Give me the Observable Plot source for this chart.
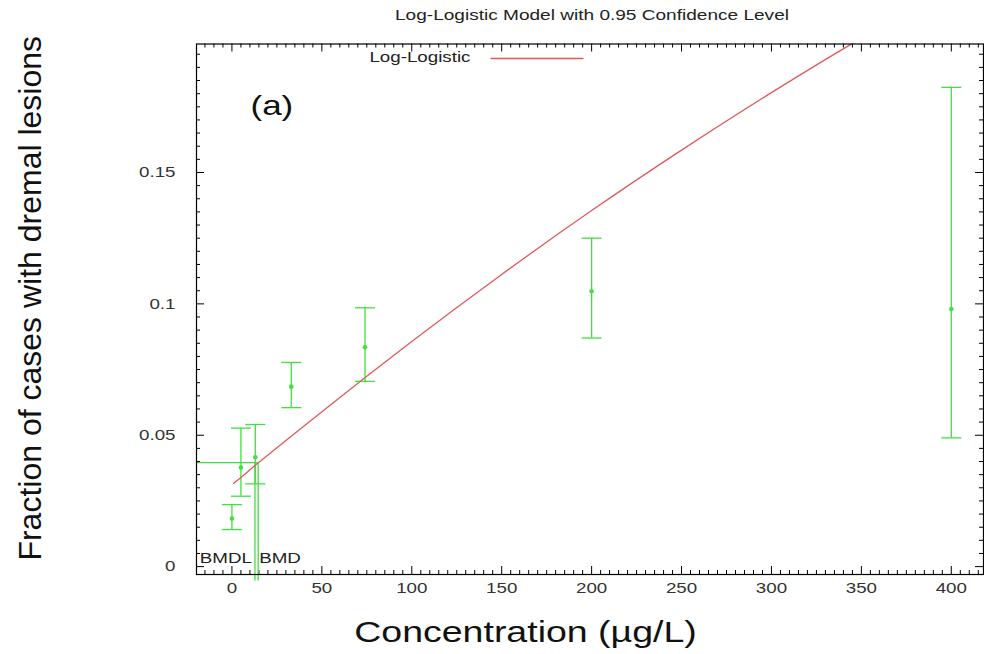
<!DOCTYPE html>
<html><head><meta charset="utf-8">
<script src="https://cdn.jsdelivr.net/npm/d3@7"></script>
<script src="https://cdn.jsdelivr.net/npm/@observablehq/plot@0.6"></script>
<style>
body{margin:0;background:#fff;font-family:"Liberation Sans",Arial,sans-serif;}
#title{position:relative;height:30px;width:984px;}
#title span{position:absolute;left:592px;top:6px;font-size:15px;line-height:17px;white-space:nowrap;transform:translateX(-50%) scaleX(1.27);color:#222;}
#chart svg{overflow:visible;}
</style></head><body>
<div id="title"><span>Log-Logistic Model with 0.95 Confidence Level</span></div>
<div id="chart"></div>
<script>
// Observed data (dose, fraction) with 95% confidence limits
const doses    = [0, 5, 13, 33, 74, 200, 400];
const observed = [0.0183, 0.0377, 0.0416, 0.0685, 0.0835, 0.1048, 0.0980];
const lower    = [0.0141, 0.0268, 0.0315, 0.0605, 0.0705, 0.0870, 0.0490];
const upper    = [0.0236, 0.0527, 0.0541, 0.0777, 0.0985, 0.1250, 0.1824];

// Fitted log-logistic curve
const curveDose = [1, 5, 14.6, 25, 38, 73, 100, 150, 200, 250, 300, 343, 350];
const curveP    = [0.0317, 0.0339, 0.0395, 0.0452, 0.0524, 0.0714, 0.0857, 0.1112, 0.1355, 0.1585, 0.1804, 0.1983, 0.2011];

// Benchmark dose markers
const bmr  = [0.0396];
const bmdl = [12.8];
const bmd  = [14.6];

// Axis ticks
const xTicks = [0, 50, 100, 150, 200, 250, 300, 350, 400];
const xTickLabels = ["0", "50", "100", "150", "200", "250", "300", "350", "400"];
const yTicks = [0, 0.05, 0.1, 0.15];
const yTickLabels = ["0", "0.05", "0.1", "0.15"];
const xDomain = [-19.7, 417.9];
const yDomain = [-0.003, 0.1989];

const GREEN = "#3fe03f", RED = "#e05a5a";
const obs = doses.map((d, i) => ({dose: d, p: observed[i], lo: lower[i], hi: upper[i]}));
const curve = curveDose.map((d, i) => ({dose: d, p: curveP[i]}));

const xMinor = d3.range(-15, 418, 5).filter(v => v % 50 !== 0);
const yMinor = d3.range(0, 0.1989, 0.005).filter(v => Math.abs(v / 0.05 - Math.round(v / 0.05)) > 1e-6);

const capSymbol = {draw(ctx) { ctx.moveTo(-10, 0); ctx.lineTo(10, 0); }};
const legendSymbol = {draw(ctx) { ctx.moveTo(-46.5, 0); ctx.lineTo(46.5, 0); }};

const W = 984, H = 624, mL = 196, mR = 1, mT = 13.5, mB = 80;
const fw = W - mL - mR, fh = H - mT - mB;

const chart = Plot.plot({
  width: W, height: H,
  marginLeft: mL, marginRight: mR, marginTop: mT, marginBottom: mB,
  style: {fontFamily: "Liberation Sans, Arial, sans-serif", background: "#fff", overflow: "visible"},
  x: {domain: xDomain},
  y: {domain: yDomain},
  marks: [
    // tick labels
    Plot.axisX({ticks: xTicks, tickSize: 0, tickPadding: 8, fontSize: 15, fill: "#333", label: null,
      tickFormat: d => xTickLabels[xTicks.indexOf(d)]}),
    Plot.axisY({ticks: yTicks, tickSize: 0, tickPadding: 21, fontSize: 15, fill: "#333", label: null,
      tickFormat: d => yTickLabels[yTicks.indexOf(d)]}),
    // inward ticks on all four sides
    Plot.ruleX(xTicks, {insetTop: fh - 8, stroke: "#000"}),
    Plot.ruleX(xTicks, {insetBottom: fh - 8, stroke: "#000"}),
    Plot.ruleX(xMinor, {insetTop: fh - 4, stroke: "#000"}),
    Plot.ruleX(xMinor, {insetBottom: fh - 4, stroke: "#000"}),
    Plot.ruleY(yTicks, {insetRight: fw - 8, stroke: "#000"}),
    Plot.ruleY(yTicks, {insetLeft: fw - 8, stroke: "#000"}),
    Plot.ruleY(yMinor, {insetRight: fw - 4, stroke: "#000"}),
    Plot.ruleY(yMinor, {insetLeft: fw - 4, stroke: "#000"}),
    // BMD markers
    Plot.ruleY(bmr, {x1: xDomain[0], x2: bmd[0], stroke: GREEN, strokeWidth: 1.3}),
    Plot.ruleX(bmdl, {y1: -0.0055, y2: bmr[0], stroke: GREEN, strokeWidth: 1.3}),
    Plot.ruleX(bmd, {y1: -0.0055, y2: bmr[0], stroke: GREEN, strokeWidth: 1.3}),
    Plot.text(bmdl, {x: d => d, frameAnchor: "bottom", lineAnchor: "middle", dy: -16, dx: -3, text: () => "BMDL", textAnchor: "end", fontSize: 15, fill: "#222"}),
    Plot.text(bmd, {x: d => d, frameAnchor: "bottom", lineAnchor: "middle", dy: -16, dx: 1, text: () => "BMD", textAnchor: "start", fontSize: 15, fill: "#222"}),
    // error bars
    Plot.ruleX(obs, {x: "dose", y1: "lo", y2: "hi", stroke: GREEN, strokeWidth: 1.3}),
    Plot.dot(obs, {x: "dose", y: "lo", symbol: capSymbol, stroke: GREEN, fill: "none", strokeWidth: 1.3}),
    Plot.dot(obs, {x: "dose", y: "hi", symbol: capSymbol, stroke: GREEN, fill: "none", strokeWidth: 1.3}),
    Plot.dot(obs, {x: "dose", y: "p", r: 2.3, fill: GREEN, stroke: "none"}),
    // fitted curve
    Plot.line(curve, {x: "dose", y: "p", stroke: RED, strokeWidth: 1.3, curve: "monotone-x", clip: true}),
    // legend
    Plot.text(["Log-Logistic"], {frameAnchor: "top-left", lineAnchor: "middle", dx: 470 - mL, dy: 57 - 43.5, textAnchor: "end", fontSize: 15, fill: "#222"}),
    Plot.dot([0], {frameAnchor: "top-left", dx: 536.5 - mL, dy: 58 - 43.5, symbol: legendSymbol, stroke: RED, fill: "none", strokeWidth: 1.3}),
    // panel label
    Plot.text(["(a)"], {frameAnchor: "top-left", lineAnchor: "middle", dx: 250 - mL, dy: 106 - 43.5, textAnchor: "start", fontSize: 28, fill: "#111"}),
    // axis titles
    Plot.text(["Concentration (\u00b5g/L)"], {frameAnchor: "bottom", lineAnchor: "middle", dx: 525 - (mL + fw / 2), dy: 58, fontSize: 30, fill: "#111"}),
    Plot.text(["Fraction of cases with dremal lesions"], {frameAnchor: "left", textAnchor: "middle", lineAnchor: "middle", rotate: -90, dx: 30 - mL, dy: -11, fontSize: 32, fill: "#111"}),
    Plot.frame({stroke: "#000", strokeWidth: 1.2})
  ]
});
document.getElementById("chart").append(chart);
chart.querySelectorAll("text").forEach(t => {
  const tr = t.getAttribute("transform") || "";
  if (tr.includes("rotate")) return;
  const w = t.getComputedTextLength();
  t.setAttribute("textLength", w * 1.25);
  t.setAttribute("lengthAdjust", "spacingAndGlyphs");
});
</script>
</body></html>
